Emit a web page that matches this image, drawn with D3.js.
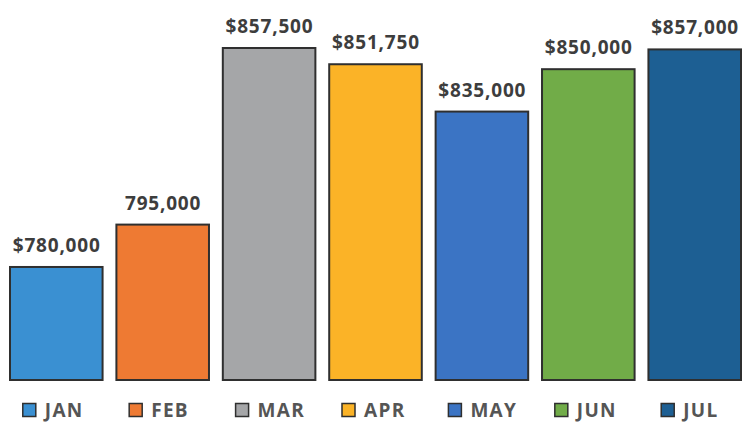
<!DOCTYPE html>
<html><head><meta charset="utf-8">
<script src="https://cdn.jsdelivr.net/npm/d3@7/dist/d3.min.js"></script>
<style>html,body{margin:0;padding:0;background:#fff;}svg{display:block;}</style>
</head><body>
<svg id="chart" width="753" height="425"></svg>
<script>
const months = ["JAN","FEB","MAR","APR","MAY","JUN","JUL"];
const values = [780000, 795000, 857500, 851750, 835000, 850000, 857000];
const labels = ["$780,000","795,000","$857,500","$851,750","$835,000","$850,000","$857,000"];
const colors = ["#3a90d2","#ee7a33","#a5a6a8","#fbb327","#3b74c4","#71ac48","#1d5f93"];

const svg = d3.select("#chart");
const x = d3.scaleBand().domain(months).range([10, 741]).paddingInner(0.13).paddingOuter(0);
const y = d3.scaleLinear().domain([740000, 857500]).range([380, 48]);

svg.selectAll("rect.bar").data(months).join("rect")
  .attr("class","bar")
  .attr("x", d => x(d))
  .attr("y", (d,i) => y(values[i]))
  .attr("width", x.bandwidth())
  .attr("height", (d,i) => y.range()[0] - y(values[i]))
  .attr("fill", (d,i) => colors[i])
  .attr("stroke", "#2f2f2f")
  .attr("stroke-width", 2);

svg.selectAll("text.val").data(months).join("text")
  .attr("class","val")
  .attr("x", d => x(d) + x.bandwidth()/2 + 0.4)
  .attr("y", (d,i) => y(values[i]) - 15)
  .attr("text-anchor","middle")
  .attr("font-family","'Open Sans', sans-serif")
  .attr("font-weight","bold")
  .attr("font-size", 19)
  .attr("letter-spacing", 0.8)
  .attr("fill","#3d3d3d")
  .text((d,i) => labels[i]);

const lg = svg.selectAll("g.leg").data(months).join("g")
  .attr("class","leg")
  .attr("transform", d => `translate(${x(d) + x.bandwidth()/2 - 33.5},410)`);
lg.append("rect")
  .attr("x", 0).attr("y", -6.5).attr("width", 13).attr("height", 13)
  .attr("fill", (d,i) => colors[i])
  .attr("stroke", "#2f2f2f").attr("stroke-width", 1.5);
lg.append("text")
  .attr("x", 22).attr("y", 0).attr("dy","0.36em")
  .attr("font-family","'Open Sans', sans-serif")
  .attr("font-weight","bold")
  .attr("font-size", 19)
  .attr("letter-spacing", 1.3)
  .attr("fill","#555555")
  .text(d => d);
</script>
</body></html>
